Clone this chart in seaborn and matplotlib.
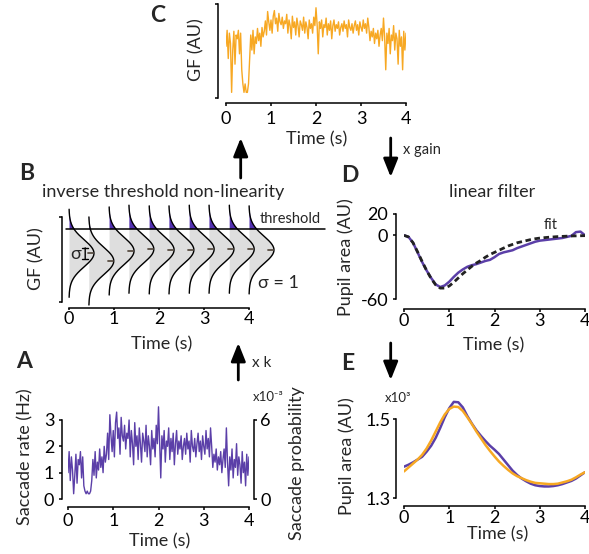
import numpy as np
import matplotlib
matplotlib.use('Agg')
import matplotlib.pyplot as plt
from matplotlib.patches import FancyArrowPatch
import seaborn as sns

# ---------------- data ----------------
t_noise = np.round(np.arange(161) * 0.025, 3)          # time (s)
sac_rate = [1.0, 1.8, 0.7, 1.6, 1.1, 0.2, 0.9, 1.7, 0.6, 1.5, 1.3, 1.8, 0.8, 1.6, 0.5, 0.3,
            0.2, 0.3, 0.2, 0.2, 0.3, 0.7, 1.5, 0.9, 1.8, 0.8, 1.4, 1.1, 1.9, 1.2, 1.6, 1.0,
            2.0, 1.4, 1.7, 2.5, 1.5, 3.2, 2.4, 1.8, 2.6, 1.6, 2.9, 3.3, 2.3, 2.7, 1.7, 3.1,
            2.4, 2.2, 2.8, 1.9, 2.5, 2.3, 3.0, 1.6, 2.6, 2.1, 1.3, 2.9, 2.0, 2.4, 1.5, 2.7,
            2.1, 1.4, 2.5, 2.2, 1.8, 2.8, 1.6, 2.4, 2.0, 1.3, 2.6, 1.9, 2.3, 1.6, 2.8, 2.1,
            3.5, 2.2, 0.8, 2.4, 1.9, 2.6, 1.4, 2.2, 2.0, 2.7, 1.5, 2.3, 1.8, 2.5, 1.3, 2.1,
            2.6, 1.7, 2.2, 1.9, 2.4, 1.5, 2.0, 2.3, 1.7, 2.5, 1.9, 2.2, 1.4, 2.6, 2.0, 1.8,
            2.3, 1.6, 2.1, 2.5, 1.8, 2.2, 1.5, 2.4, 2.0, 1.7, 2.6, 1.9, 2.3, 1.6, 2.7, 2.0,
            1.2, 1.7, 1.4, 1.9, 1.1, 1.6, 1.3, 1.8, 1.0, 1.5, 1.9, 1.2, 2.7, 1.4, 0.5, 1.6,
            1.1, 1.9, 0.8, 1.5, 1.2, 2.1, 0.9, 1.6, 1.3, 0.6, 1.8, 1.0, 1.4, 0.5, 1.7, 0.9,
            1.6]
gf = [0.55, 0.72, 0.42, 0.69, 0.58, 0.06, 0.51, 0.71, 0.36, 0.67, 0.63, 0.72, 0.47, 0.69, 0.30, 0.15,
      0.06, 0.15, 0.06, 0.06, 0.15, 0.42, 0.67, 0.51, 0.72, 0.47, 0.65, 0.58, 0.74, 0.61, 0.69, 0.55,
      0.75, 0.65, 0.71, 0.82, 0.67, 0.92, 0.81, 0.72, 0.83, 0.69, 0.87, 0.93, 0.79, 0.85, 0.71, 0.90,
      0.81, 0.78, 0.86, 0.74, 0.82, 0.79, 0.89, 0.69, 0.83, 0.77, 0.63, 0.87, 0.75, 0.81, 0.67, 0.85,
      0.77, 0.65, 0.82, 0.78, 0.72, 0.86, 0.69, 0.81, 0.75, 0.63, 0.83, 0.74, 0.79, 0.69, 0.86, 0.77,
      0.96, 0.78, 0.47, 0.81, 0.74, 0.83, 0.65, 0.78, 0.75, 0.85, 0.67, 0.79, 0.72, 0.82, 0.63, 0.77,
      0.83, 0.71, 0.78, 0.74, 0.81, 0.67, 0.75, 0.79, 0.71, 0.82, 0.74, 0.78, 0.65, 0.83, 0.75, 0.72,
      0.79, 0.69, 0.77, 0.82, 0.72, 0.78, 0.67, 0.81, 0.75, 0.71, 0.83, 0.74, 0.79, 0.69, 0.85, 0.75,
      0.61, 0.71, 0.65, 0.74, 0.58, 0.69, 0.63, 0.72, 0.55, 0.67, 0.74, 0.61, 0.85, 0.65, 0.30, 0.69,
      0.58, 0.74, 0.47, 0.67, 0.61, 0.77, 0.51, 0.69, 0.63, 0.36, 0.72, 0.55, 0.65, 0.30, 0.71, 0.51,
      0.69]

# panel B: gaussian positions (s) and means (in sigma units relative to threshold)
gauss_t = [0.0, 0.44, 0.89, 1.33, 1.78, 2.22, 2.67, 3.11, 3.56, 4.0]
gauss_mu = [-1.8, -2.37, -1.63, -1.5, -1.55, -1.55, -1.5, -1.5, -1.5, -1.55]
gauss_sigma = 1.0

# panel D: linear filter and fit
t_d = np.round(np.arange(41) * 0.1, 2)
filt = [0, -1.5, -7, -16, -25, -33, -40, -46, -48.5, -47, -43.5, -39, -35, -32, -29.5, -28,
        -27, -25.5, -24, -23, -20.5, -17.5, -16, -15, -14, -12, -10.5, -9, -7.5, -6, -5,
        -4.5, -4, -3.5, -3, -2.5, -1.5, -0.5, 3, 3.5, 0]
fit = [0, -1.5, -7, -15.5, -24.5, -33, -40.5, -46.5, -49.5, -49.5, -47.5, -44, -40, -36, -32.5,
       -29, -26, -23.5, -20.5, -18, -16, -14, -12, -10, -8.5, -7, -6, -5, -4, -3.2, -2.6,
       -2.2, -1.8, -1.5, -1.2, -1.0, -0.8, -0.6, -0.5, -0.4, -0.3]

# panel E: pupil area (x10^3)
t_e = np.round(np.arange(41) * 0.1, 2)
pupil_data = [1.380, 1.385, 1.391, 1.398, 1.405, 1.418, 1.433, 1.453, 1.478, 1.505, 1.528,
              1.544, 1.543, 1.530, 1.508, 1.489, 1.472, 1.458, 1.445, 1.433, 1.423, 1.412,
              1.398, 1.384, 1.370, 1.359, 1.350, 1.343, 1.337, 1.333, 1.331, 1.330, 1.330,
              1.331, 1.333, 1.336, 1.340, 1.344, 1.350, 1.358, 1.366]
pupil_model = [1.368, 1.378, 1.388, 1.398, 1.410, 1.426, 1.446, 1.469, 1.492, 1.512, 1.526,
               1.532, 1.531, 1.521, 1.505, 1.488, 1.469, 1.452, 1.435, 1.420, 1.406, 1.393,
               1.382, 1.372, 1.363, 1.356, 1.351, 1.346, 1.342, 1.339, 1.338, 1.337, 1.336,
               1.336, 1.337, 1.340, 1.343, 1.347, 1.353, 1.360, 1.366]

time_ticks = [0, 1, 2, 3, 4]

# ---------------- style ----------------
W, H, DPI = 589, 554, 100
PURPLE = '#5b3fa8'
PURPLE_FILL = '#5330b0'
ORANGE = '#f7a823'
GREY = '#dedede'
FS = 13

sns.set_style('ticks')
plt.rcParams['font.family'] = ['Lato', 'DejaVu Sans']
plt.rcParams['font.size'] = FS
plt.rcParams['axes.linewidth'] = 1.1
plt.rcParams['xtick.major.width'] = 1.1
plt.rcParams['ytick.major.width'] = 1.1
plt.rcParams['xtick.major.size'] = 2.5
plt.rcParams['ytick.major.size'] = 2.5
plt.rcParams['xtick.labelsize'] = FS
plt.rcParams['ytick.labelsize'] = FS
plt.rcParams['xtick.color'] = 'black'
plt.rcParams['ytick.color'] = 'black'
plt.rcParams['axes.edgecolor'] = 'black'

fig = plt.figure(figsize=(W / DPI, H / DPI), dpi=DPI)


def pt(px):
    return px * 72.0 / DPI


def axpx(x0, x1, ytop, ybot):
    ax = fig.add_axes([x0 / W, 1 - ybot / H, (x1 - x0) / W, (ybot - ytop) / H])
    ax.patch.set_alpha(0)
    return ax


def style(ax, left_off, bottom_off):
    ax.spines['top'].set_visible(False)
    ax.spines['right'].set_visible(False)
    ax.spines['left'].set_position(('outward', pt(left_off)))
    ax.spines['bottom'].set_position(('outward', pt(bottom_off)))
    ax.set_xlabel('')
    ax.set_ylabel('')


def ftxt(x, y, s, **kw):
    kw.setdefault('ha', 'center')
    kw.setdefault('va', 'center')
    return fig.text(x / W, 1 - y / H, s, **kw)


def arrow(x, y0, y1):
    fig.add_artist(FancyArrowPatch((x / W, 1 - y0 / H), (x / W, 1 - y1 / H),
                                   transform=fig.transFigure,
                                   arrowstyle='-|>,head_length=0.55,head_width=0.22',
                                   mutation_scale=20, lw=2.0, color='black',
                                   shrinkA=0, shrinkB=0))


# ---------------- panel A ----------------
axA = axpx(68, 249, 404.2, 499)
sns.lineplot(x=t_noise, y=sac_rate, ax=axA, color=PURPLE, lw=1.0)
axA.set_xlim(0, 4)
axA.set_ylim(0, 3.6)
axA.set_xticks(time_ticks)
axA.set_yticks([0, 1, 2, 3])
axA.spines['left'].set_bounds(0, 3)
axA.spines['bottom'].set_bounds(0, 4)
style(axA, 6, 8)
axA.tick_params(axis='x', pad=2)
axA.tick_params(axis='y', pad=3)
axA2 = axA.twinx()
axA2.set_ylim(0, 7.2)
axA2.set_yticks([0, 6])
for s in ['top', 'left', 'bottom']:
    axA2.spines[s].set_visible(False)
axA2.spines['right'].set_bounds(0, 6)
axA2.spines['right'].set_position(('outward', pt(5)))
axA2.tick_params(axis='y', pad=2)

# ---------------- panel B ----------------
# 1 sigma = 13.5 px, threshold at y = 0
axB = axpx(69, 249, 201.4, 304.6)
axB.set_xlim(0, 4)
axB.set_ylim(-5.6, 2.04)
amp = 0.555
half = 3.26
for t0, mu in zip(gauss_t, gauss_mu):
    yy = np.linspace(mu - half * gauss_sigma, mu + half * gauss_sigma, 300)
    xx = t0 + amp * np.exp(-0.5 * ((yy - mu) / gauss_sigma) ** 2)
    below = yy <= 0
    axB.fill_betweenx(yy[below], t0, xx[below], color=GREY, lw=0, zorder=1, clip_on=False)
    above = yy >= 0
    if above.sum() > 1:
        axB.fill_betweenx(yy[above], t0, xx[above], color=PURPLE_FILL, lw=0, zorder=2,
                          clip_on=False)
for t0, mu in zip(gauss_t, gauss_mu):
    yy = np.linspace(mu - half * gauss_sigma, mu + half * gauss_sigma, 300)
    xx = t0 + amp * np.exp(-0.5 * ((yy - mu) / gauss_sigma) ** 2)
    sns.lineplot(x=xx, y=yy, ax=axB, color='black', lw=1.0, sort=False, zorder=4,
                 clip_on=False, estimator=None)
    axB.plot([t0 + amp * 0.76, t0 + amp * 0.97], [mu, mu], color='#5a4e44', lw=1.3, zorder=5,
             clip_on=False)
axB.plot([-0.07, 5.69], [0, 0], color='black', lw=1.1, zorder=5, clip_on=False)
axB.text(4.24, 0.74, 'threshold', fontsize=10.5, ha='left', va='center')
axB.text(4.2, -4.03, 'σ = 1', fontsize=13, ha='left', va='center')
axB.text(0.14, -1.85, 'σ', fontsize=13, ha='center', va='center')
axB.annotate('', xy=(0.36, gauss_mu[0] - 0.4), xytext=(0.36, gauss_mu[0] + 0.4),
             arrowprops=dict(arrowstyle='|-|,widthA=0.15,widthB=0.15', lw=1.0, color='black',
                             shrinkA=0, shrinkB=0))
axB.set_xticks(time_ticks)
axB.set_yticks([-5.41, 0.89])
axB.set_yticklabels([])
axB.spines['left'].set_bounds(-5.41, 0.89)
axB.spines['bottom'].set_bounds(0, 4)
style(axB, 7, 3.7)
axB.tick_params(axis='x', pad=0.5, length=1.5)

# ---------------- panel C ----------------
axC = axpx(226, 406, 4, 98)
sns.lineplot(x=t_noise, y=gf, ax=axC, color=ORANGE, lw=1.0)
axC.set_xlim(0, 4)
axC.set_ylim(0, 1)
axC.set_xticks(time_ticks)
axC.set_yticks([0, 1])
axC.set_yticklabels([])
axC.spines['left'].set_bounds(0, 1)
axC.spines['bottom'].set_bounds(0, 4)
style(axC, 8, 5)
axC.tick_params(axis='x', pad=3)

# ---------------- panel D ----------------
axD = axpx(404, 585, 214, 299.3)
sns.lineplot(x=t_d, y=filt, ax=axD, color=PURPLE, lw=1.8, zorder=3)
sns.lineplot(x=t_d, y=fit, ax=axD, color='#222222', lw=2.0, zorder=4, linestyle=(0, (2.0, 1.3)))
axD.set_xlim(0, 4)
axD.set_ylim(-60, 20)
axD.set_xticks(time_ticks)
axD.set_yticks([-60, 0, 20])
axD.set_yticklabels(['-60', '0', '20'])
axD.spines['left'].set_bounds(-60, 20)
axD.spines['bottom'].set_bounds(0, 4)
style(axD, 8, 10)
axD.tick_params(axis='x', pad=0.5)
axD.tick_params(axis='y', pad=3)
axD.text(3.25, 9.5, 'fit', fontsize=10.5, ha='center', va='center')

# ---------------- panel E ----------------
axE = axpx(404, 585, 399.5, 498.3)
sns.lineplot(x=t_e, y=pupil_data, ax=axE, color=PURPLE, lw=1.8, zorder=3)
sns.lineplot(x=t_e, y=pupil_model, ax=axE, color=ORANGE, lw=1.8, zorder=4)
axE.set_xlim(0, 4)
axE.set_ylim(1.3, 1.55)
axE.set_xticks(time_ticks)
axE.set_yticks([1.3, 1.5])
axE.set_yticklabels(['1.3', '1.5'])
axE.spines['left'].set_bounds(1.3, 1.5)
axE.spines['bottom'].set_bounds(0, 4)
style(axE, 8, 7.4)
axE.tick_params(axis='x', pad=0.5)
axE.tick_params(axis='y', pad=1.5)

# ---------------- labels ----------------
ftxt(25, 457, 'Saccade rate (Hz)', rotation=90)
ftxt(297, 463, 'Saccade probability', rotation=90)
ftxt(253, 397, 'x10⁻³', fontsize=9.5, ha='left')
ftxt(160, 541, 'Time (s)')
ftxt(36, 259, 'GF (AU)', rotation=90)
ftxt(163, 192, 'inverse threshold non-linearity')
ftxt(162, 344, 'Time (s)')
ftxt(196, 50, 'GF (AU)', rotation=90)
ftxt(317, 139, 'Time (s)')
ftxt(346, 257, 'Pupil area (AU)', rotation=90)
ftxt(492, 192, 'linear filter')
ftxt(494, 345, 'Time (s)')
ftxt(347, 456, 'Pupil area (AU)', rotation=90)
ftxt(398, 398, 'x10³', fontsize=9.5)
ftxt(498, 534, 'Time (s)')

for letter, x, y in [('A', 24, 362), ('B', 27, 174), ('C', 158, 15), ('D', 350, 175), ('E', 348, 363)]:
    ftxt(x, y, letter, fontsize=16.5, fontweight='bold')

arrow(240.7, 178, 138)
arrow(390.7, 138, 177)
arrow(238.3, 380, 343)
arrow(390.7, 343, 380)
ftxt(403, 150, 'x gain', fontsize=10.5, ha='left')
ftxt(252, 363, 'x k', fontsize=11, ha='left')

fig.savefig('out.png', dpi=DPI)
